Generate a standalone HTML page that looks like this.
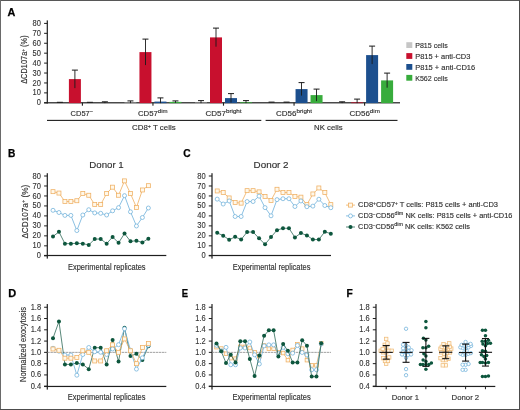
<!DOCTYPE html>
<html><head><meta charset="utf-8"><style>
html,body{margin:0;padding:0;background:#fff;}
body{width:520px;height:410px;overflow:hidden;}
svg{display:block;font-family:"Liberation Sans", sans-serif;will-change:transform;}
text{stroke:#333;stroke-width:0.14px;}
</style></head><body>
<svg width="520" height="410" viewBox="0 0 520 410">
<rect x="0" y="0" width="520" height="410" fill="#fff"/>
<text x="7.60" y="16.20" font-size="10.2" font-weight="bold" fill="#000" style="stroke:#000;stroke-width:0.25px" textLength="7.81" lengthAdjust="spacingAndGlyphs">A</text>
<rect x="44.10" y="102.30" width="3.20" height="1.0" fill="#1e1e1e"/>
<text x="40.9" y="105.35" font-size="8.8" text-anchor="end" fill="#333" style="stroke:#333;stroke-width:0.12px" textLength="4.18" lengthAdjust="spacingAndGlyphs">0</text>
<rect x="44.10" y="92.38" width="3.20" height="1.0" fill="#1e1e1e"/>
<text x="40.9" y="95.42" font-size="8.8" text-anchor="end" fill="#333" style="stroke:#333;stroke-width:0.12px" textLength="8.37" lengthAdjust="spacingAndGlyphs">10</text>
<rect x="44.10" y="82.45" width="3.20" height="1.0" fill="#1e1e1e"/>
<text x="40.9" y="85.50" font-size="8.8" text-anchor="end" fill="#333" style="stroke:#333;stroke-width:0.12px" textLength="8.37" lengthAdjust="spacingAndGlyphs">20</text>
<rect x="44.10" y="72.52" width="3.20" height="1.0" fill="#1e1e1e"/>
<text x="40.9" y="75.57" font-size="8.8" text-anchor="end" fill="#333" style="stroke:#333;stroke-width:0.12px" textLength="8.37" lengthAdjust="spacingAndGlyphs">30</text>
<rect x="44.10" y="62.60" width="3.20" height="1.0" fill="#1e1e1e"/>
<text x="40.9" y="65.65" font-size="8.8" text-anchor="end" fill="#333" style="stroke:#333;stroke-width:0.12px" textLength="8.37" lengthAdjust="spacingAndGlyphs">40</text>
<rect x="44.10" y="52.67" width="3.20" height="1.0" fill="#1e1e1e"/>
<text x="40.9" y="55.72" font-size="8.8" text-anchor="end" fill="#333" style="stroke:#333;stroke-width:0.12px" textLength="8.37" lengthAdjust="spacingAndGlyphs">50</text>
<rect x="44.10" y="42.75" width="3.20" height="1.0" fill="#1e1e1e"/>
<text x="40.9" y="45.80" font-size="8.8" text-anchor="end" fill="#333" style="stroke:#333;stroke-width:0.12px" textLength="8.37" lengthAdjust="spacingAndGlyphs">60</text>
<rect x="44.10" y="32.82" width="3.20" height="1.0" fill="#1e1e1e"/>
<text x="40.9" y="35.87" font-size="8.8" text-anchor="end" fill="#333" style="stroke:#333;stroke-width:0.12px" textLength="8.37" lengthAdjust="spacingAndGlyphs">70</text>
<rect x="44.10" y="22.90" width="3.20" height="1.0" fill="#1e1e1e"/>
<text x="40.9" y="25.95" font-size="8.8" text-anchor="end" fill="#333" style="stroke:#333;stroke-width:0.12px" textLength="8.37" lengthAdjust="spacingAndGlyphs">80</text>
<rect x="46.70" y="20.40" width="1.2" height="83.10" fill="#1e1e1e"/>
<rect x="44.10" y="102.20" width="355.90" height="1.2" fill="#1e1e1e"/>
<text transform="translate(27.4,59.6) rotate(-90)" font-size="8.8" text-anchor="middle" fill="#2e2e2e" textLength="48.5" lengthAdjust="spacingAndGlyphs">ΔCD107a<tspan dy="-2.8" font-size="5.4">+</tspan><tspan dy="2.8"> (%)</tspan></text>
<rect x="56.90" y="101.80" width="6.00" height="1.0" fill="#1a1a1a"/>
<rect x="68.90" y="79.10" width="12" height="24.00" fill="#c8102e"/>
<rect x="74.45" y="70.10" width="0.9" height="18.00" fill="#1a1a1a"/>
<rect x="71.90" y="69.60" width="6.00" height="1.0" fill="#1a1a1a"/>
<rect x="86.90" y="101.80" width="6.00" height="1.0" fill="#1a1a1a"/>
<rect x="104.45" y="101.80" width="0.9" height="1.30" fill="#1a1a1a"/>
<rect x="101.90" y="101.30" width="6.00" height="1.0" fill="#1a1a1a"/>
<rect x="81.85" y="102.60" width="1.1" height="3.10" fill="#1e1e1e"/>
<rect x="124.45" y="102.60" width="12" height="0.50" fill="#c6c6c6"/>
<rect x="130.00" y="100.90" width="0.9" height="2.20" fill="#1a1a1a"/>
<rect x="127.45" y="100.40" width="6.00" height="1.0" fill="#1a1a1a"/>
<rect x="139.45" y="52.10" width="12" height="51.00" fill="#c8102e"/>
<rect x="145.00" y="39.10" width="0.9" height="26.00" fill="#1a1a1a"/>
<rect x="142.45" y="38.60" width="6.00" height="1.0" fill="#1a1a1a"/>
<rect x="154.45" y="101.60" width="12" height="1.50" fill="#1c4f8e"/>
<rect x="160.00" y="97.90" width="0.9" height="5.20" fill="#1a1a1a"/>
<rect x="157.45" y="97.40" width="6.00" height="1.0" fill="#1a1a1a"/>
<rect x="169.45" y="101.90" width="12" height="1.20" fill="#38ac3c"/>
<rect x="175.00" y="100.90" width="0.9" height="2.00" fill="#1a1a1a"/>
<rect x="172.45" y="100.40" width="6.00" height="1.0" fill="#1a1a1a"/>
<rect x="152.40" y="102.60" width="1.1" height="3.10" fill="#1e1e1e"/>
<rect x="195.00" y="102.60" width="12" height="0.50" fill="#c6c6c6"/>
<rect x="200.55" y="100.60" width="0.9" height="2.50" fill="#1a1a1a"/>
<rect x="198.00" y="100.10" width="6.00" height="1.0" fill="#1a1a1a"/>
<rect x="210.00" y="37.40" width="12" height="65.70" fill="#c8102e"/>
<rect x="215.55" y="28.10" width="0.9" height="18.60" fill="#1a1a1a"/>
<rect x="213.00" y="27.60" width="6.00" height="1.0" fill="#1a1a1a"/>
<rect x="225.00" y="98.10" width="12" height="5.00" fill="#1c4f8e"/>
<rect x="230.55" y="93.60" width="0.9" height="9.00" fill="#1a1a1a"/>
<rect x="228.00" y="93.10" width="6.00" height="1.0" fill="#1a1a1a"/>
<rect x="240.00" y="102.30" width="12" height="0.80" fill="#38ac3c"/>
<rect x="245.55" y="100.60" width="0.9" height="2.50" fill="#1a1a1a"/>
<rect x="243.00" y="100.10" width="6.00" height="1.0" fill="#1a1a1a"/>
<rect x="222.95" y="102.60" width="1.1" height="3.10" fill="#1e1e1e"/>
<rect x="268.55" y="101.60" width="6.00" height="1.0" fill="#1a1a1a"/>
<rect x="283.55" y="101.60" width="6.00" height="1.0" fill="#1a1a1a"/>
<rect x="295.55" y="89.10" width="12" height="14.00" fill="#1c4f8e"/>
<rect x="301.10" y="82.60" width="0.9" height="13.00" fill="#1a1a1a"/>
<rect x="298.55" y="82.10" width="6.00" height="1.0" fill="#1a1a1a"/>
<rect x="310.55" y="95.10" width="12" height="8.00" fill="#38ac3c"/>
<rect x="316.10" y="89.10" width="0.9" height="12.00" fill="#1a1a1a"/>
<rect x="313.55" y="88.60" width="6.00" height="1.0" fill="#1a1a1a"/>
<rect x="293.50" y="102.60" width="1.1" height="3.10" fill="#1e1e1e"/>
<rect x="341.65" y="101.80" width="0.9" height="1.30" fill="#1a1a1a"/>
<rect x="339.10" y="101.30" width="6.00" height="1.0" fill="#1a1a1a"/>
<rect x="351.10" y="102.40" width="12" height="0.70" fill="#c8102e"/>
<rect x="356.65" y="99.10" width="0.9" height="4.00" fill="#1a1a1a"/>
<rect x="354.10" y="98.60" width="6.00" height="1.0" fill="#1a1a1a"/>
<rect x="366.10" y="55.10" width="12" height="48.00" fill="#1c4f8e"/>
<rect x="371.65" y="46.10" width="0.9" height="18.00" fill="#1a1a1a"/>
<rect x="369.10" y="45.60" width="6.00" height="1.0" fill="#1a1a1a"/>
<rect x="381.10" y="80.40" width="12" height="22.70" fill="#38ac3c"/>
<rect x="386.65" y="73.10" width="0.9" height="14.60" fill="#1a1a1a"/>
<rect x="384.10" y="72.60" width="6.00" height="1.0" fill="#1a1a1a"/>
<rect x="364.05" y="102.60" width="1.1" height="3.10" fill="#1e1e1e"/>
<text x="70.6" y="115.7" font-size="7.7" fill="#2e2e2e" textLength="22.60000000000001" lengthAdjust="spacingAndGlyphs">CD57<tspan dy="-2.7" font-size="6">−</tspan></text>
<text x="137.9" y="115.7" font-size="7.7" fill="#2e2e2e" textLength="29.69999999999999" lengthAdjust="spacingAndGlyphs">CD57<tspan dy="-2.7" font-size="6">dim</tspan></text>
<text x="205.5" y="115.7" font-size="7.7" fill="#2e2e2e" textLength="36.099999999999994" lengthAdjust="spacingAndGlyphs">CD57<tspan dy="-2.7" font-size="6">bright</tspan></text>
<text x="276.0" y="115.7" font-size="7.7" fill="#2e2e2e" textLength="36.10000000000002" lengthAdjust="spacingAndGlyphs">CD56<tspan dy="-2.7" font-size="6">bright</tspan></text>
<text x="349.5" y="115.7" font-size="7.7" fill="#2e2e2e" textLength="30.399999999999977" lengthAdjust="spacingAndGlyphs">CD56<tspan dy="-2.7" font-size="6">dim</tspan></text>
<rect x="47.00" y="119.85" width="214.30" height="1.1" fill="#1e1e1e"/>
<rect x="265.60" y="119.85" width="131.90" height="1.1" fill="#1e1e1e"/>
<text x="132" y="130.4" font-size="7.9" fill="#2e2e2e" textLength="43.6" lengthAdjust="spacingAndGlyphs">CD8<tspan dy="-2.8" font-size="5.4">+</tspan><tspan dy="2.8"> T cells</tspan></text>
<text x="314.0" y="130.4" font-size="7.9" text-anchor="start" font-weight="normal" fill="#2e2e2e" textLength="28.6" lengthAdjust="spacingAndGlyphs" >NK cells</text>
<rect x="406.3" y="42.20" width="6" height="5.8" fill="#c6c6c6"/>
<text x="415.2" y="47.85" font-size="7.7" text-anchor="start" font-weight="normal" fill="#2e2e2e" textLength="32.6" lengthAdjust="spacingAndGlyphs" >P815 cells</text>
<rect x="406.3" y="53.10" width="6" height="5.8" fill="#c8102e"/>
<text x="415.2" y="58.75" font-size="7.7" text-anchor="start" font-weight="normal" fill="#2e2e2e" textLength="55.2" lengthAdjust="spacingAndGlyphs" >P815 + anti-CD3</text>
<rect x="406.3" y="64.00" width="6" height="5.8" fill="#1c4f8e"/>
<text x="415.2" y="69.65" font-size="7.7" text-anchor="start" font-weight="normal" fill="#2e2e2e" textLength="60.0" lengthAdjust="spacingAndGlyphs" >P815 + anti-CD16</text>
<rect x="406.3" y="74.90" width="6" height="5.8" fill="#38ac3c"/>
<text x="415.2" y="80.55000000000001" font-size="7.7" text-anchor="start" font-weight="normal" fill="#2e2e2e" textLength="32.6" lengthAdjust="spacingAndGlyphs" >K562 cells</text>
<text x="8.10" y="157.10" font-size="10.2" font-weight="bold" fill="#000" style="stroke:#000;stroke-width:0.25px" textLength="7.36" lengthAdjust="spacingAndGlyphs">B</text>
<text x="106.5" y="168.0" font-size="9.2" text-anchor="middle" font-weight="normal" fill="#2e2e2e" textLength="34.4" lengthAdjust="spacingAndGlyphs" >Donor 1</text>
<rect x="44.10" y="255.30" width="3.20" height="1.0" fill="#1e1e1e"/>
<text x="40.9" y="258.35" font-size="8.8" text-anchor="end" fill="#333" style="stroke:#333;stroke-width:0.12px" textLength="4.18" lengthAdjust="spacingAndGlyphs">0</text>
<rect x="44.10" y="245.33" width="3.20" height="1.0" fill="#1e1e1e"/>
<text x="40.9" y="248.38" font-size="8.8" text-anchor="end" fill="#333" style="stroke:#333;stroke-width:0.12px" textLength="8.37" lengthAdjust="spacingAndGlyphs">10</text>
<rect x="44.10" y="235.35" width="3.20" height="1.0" fill="#1e1e1e"/>
<text x="40.9" y="238.40" font-size="8.8" text-anchor="end" fill="#333" style="stroke:#333;stroke-width:0.12px" textLength="8.37" lengthAdjust="spacingAndGlyphs">20</text>
<rect x="44.10" y="225.38" width="3.20" height="1.0" fill="#1e1e1e"/>
<text x="40.9" y="228.43" font-size="8.8" text-anchor="end" fill="#333" style="stroke:#333;stroke-width:0.12px" textLength="8.37" lengthAdjust="spacingAndGlyphs">30</text>
<rect x="44.10" y="215.40" width="3.20" height="1.0" fill="#1e1e1e"/>
<text x="40.9" y="218.45" font-size="8.8" text-anchor="end" fill="#333" style="stroke:#333;stroke-width:0.12px" textLength="8.37" lengthAdjust="spacingAndGlyphs">40</text>
<rect x="44.10" y="205.43" width="3.20" height="1.0" fill="#1e1e1e"/>
<text x="40.9" y="208.48" font-size="8.8" text-anchor="end" fill="#333" style="stroke:#333;stroke-width:0.12px" textLength="8.37" lengthAdjust="spacingAndGlyphs">50</text>
<rect x="44.10" y="195.45" width="3.20" height="1.0" fill="#1e1e1e"/>
<text x="40.9" y="198.50" font-size="8.8" text-anchor="end" fill="#333" style="stroke:#333;stroke-width:0.12px" textLength="8.37" lengthAdjust="spacingAndGlyphs">60</text>
<rect x="44.10" y="185.48" width="3.20" height="1.0" fill="#1e1e1e"/>
<text x="40.9" y="188.53" font-size="8.8" text-anchor="end" fill="#333" style="stroke:#333;stroke-width:0.12px" textLength="8.37" lengthAdjust="spacingAndGlyphs">70</text>
<rect x="44.10" y="175.50" width="3.20" height="1.0" fill="#1e1e1e"/>
<text x="40.9" y="178.55" font-size="8.8" text-anchor="end" fill="#333" style="stroke:#333;stroke-width:0.12px" textLength="8.37" lengthAdjust="spacingAndGlyphs">80</text>
<rect x="46.70" y="173.20" width="1.2" height="85.40" fill="#1e1e1e"/>
<rect x="44.10" y="254.90" width="122.20" height="1.2" fill="#1e1e1e"/>
<text transform="translate(27.9,211.7) rotate(-90)" font-size="8.4" text-anchor="middle" fill="#2e2e2e" textLength="53.8" lengthAdjust="spacingAndGlyphs">ΔCD107a<tspan dy="-3" font-size="5.8">+</tspan><tspan dy="3"> (%)</tspan></text>
<polyline points="53.00,236.45 58.96,231.86 64.92,243.63 70.88,243.63 76.84,243.23 82.80,243.63 88.76,244.93 94.72,239.04 100.68,239.04 106.64,243.63 112.60,236.95 118.56,242.83 124.52,233.56 130.48,241.34 136.44,240.74 142.40,242.43 148.36,238.64" fill="none" stroke="#2e6a58" stroke-width="0.8"/>
<circle cx="53.00" cy="236.45" r="2.0" fill="#0d563d"/>
<circle cx="58.96" cy="231.86" r="2.0" fill="#0d563d"/>
<circle cx="64.92" cy="243.63" r="2.0" fill="#0d563d"/>
<circle cx="70.88" cy="243.63" r="2.0" fill="#0d563d"/>
<circle cx="76.84" cy="243.23" r="2.0" fill="#0d563d"/>
<circle cx="82.80" cy="243.63" r="2.0" fill="#0d563d"/>
<circle cx="88.76" cy="244.93" r="2.0" fill="#0d563d"/>
<circle cx="94.72" cy="239.04" r="2.0" fill="#0d563d"/>
<circle cx="100.68" cy="239.04" r="2.0" fill="#0d563d"/>
<circle cx="106.64" cy="243.63" r="2.0" fill="#0d563d"/>
<circle cx="112.60" cy="236.95" r="2.0" fill="#0d563d"/>
<circle cx="118.56" cy="242.83" r="2.0" fill="#0d563d"/>
<circle cx="124.52" cy="233.56" r="2.0" fill="#0d563d"/>
<circle cx="130.48" cy="241.34" r="2.0" fill="#0d563d"/>
<circle cx="136.44" cy="240.74" r="2.0" fill="#0d563d"/>
<circle cx="142.40" cy="242.43" r="2.0" fill="#0d563d"/>
<circle cx="148.36" cy="238.64" r="2.0" fill="#0d563d"/>
<polyline points="53.00,191.66 58.96,193.06 64.92,201.54 70.88,201.54 76.84,200.74 82.80,193.56 88.76,195.25 94.72,204.53 100.68,204.53 106.64,193.56 112.60,187.17 118.56,195.25 124.52,180.89 130.48,193.56 136.44,207.42 142.40,189.97 148.36,185.68" fill="none" stroke="#efae60" stroke-width="0.8"/>
<rect x="51.00" y="189.66" width="4.0" height="4.0" fill="#fff8ea" stroke="#efae60" stroke-width="0.75"/>
<rect x="56.96" y="191.06" width="4.0" height="4.0" fill="#fff8ea" stroke="#efae60" stroke-width="0.75"/>
<rect x="62.92" y="199.54" width="4.0" height="4.0" fill="#fff8ea" stroke="#efae60" stroke-width="0.75"/>
<rect x="68.88" y="199.54" width="4.0" height="4.0" fill="#fff8ea" stroke="#efae60" stroke-width="0.75"/>
<rect x="74.84" y="198.74" width="4.0" height="4.0" fill="#fff8ea" stroke="#efae60" stroke-width="0.75"/>
<rect x="80.80" y="191.56" width="4.0" height="4.0" fill="#fff8ea" stroke="#efae60" stroke-width="0.75"/>
<rect x="86.76" y="193.25" width="4.0" height="4.0" fill="#fff8ea" stroke="#efae60" stroke-width="0.75"/>
<rect x="92.72" y="202.53" width="4.0" height="4.0" fill="#fff8ea" stroke="#efae60" stroke-width="0.75"/>
<rect x="98.68" y="202.53" width="4.0" height="4.0" fill="#fff8ea" stroke="#efae60" stroke-width="0.75"/>
<rect x="104.64" y="191.56" width="4.0" height="4.0" fill="#fff8ea" stroke="#efae60" stroke-width="0.75"/>
<rect x="110.60" y="185.17" width="4.0" height="4.0" fill="#fff8ea" stroke="#efae60" stroke-width="0.75"/>
<rect x="116.56" y="193.25" width="4.0" height="4.0" fill="#fff8ea" stroke="#efae60" stroke-width="0.75"/>
<rect x="122.52" y="178.89" width="4.0" height="4.0" fill="#fff8ea" stroke="#efae60" stroke-width="0.75"/>
<rect x="128.48" y="191.56" width="4.0" height="4.0" fill="#fff8ea" stroke="#efae60" stroke-width="0.75"/>
<rect x="134.44" y="205.42" width="4.0" height="4.0" fill="#fff8ea" stroke="#efae60" stroke-width="0.75"/>
<rect x="140.40" y="187.97" width="4.0" height="4.0" fill="#fff8ea" stroke="#efae60" stroke-width="0.75"/>
<rect x="146.36" y="183.68" width="4.0" height="4.0" fill="#fff8ea" stroke="#efae60" stroke-width="0.75"/>
<polyline points="53.00,210.31 58.96,212.51 64.92,215.40 70.88,215.40 76.84,230.56 82.80,215.00 88.76,209.72 94.72,212.91 100.68,213.31 106.64,215.00 112.60,210.81 118.56,207.62 124.52,195.65 130.48,211.81 136.44,225.97 142.40,217.50 148.36,208.02" fill="none" stroke="#6db0da" stroke-width="0.8"/>
<circle cx="53.00" cy="210.31" r="2.0" fill="#fff" stroke="#6db0da" stroke-width="0.75"/>
<circle cx="58.96" cy="212.51" r="2.0" fill="#fff" stroke="#6db0da" stroke-width="0.75"/>
<circle cx="64.92" cy="215.40" r="2.0" fill="#fff" stroke="#6db0da" stroke-width="0.75"/>
<circle cx="70.88" cy="215.40" r="2.0" fill="#fff" stroke="#6db0da" stroke-width="0.75"/>
<circle cx="76.84" cy="230.56" r="2.0" fill="#fff" stroke="#6db0da" stroke-width="0.75"/>
<circle cx="82.80" cy="215.00" r="2.0" fill="#fff" stroke="#6db0da" stroke-width="0.75"/>
<circle cx="88.76" cy="209.72" r="2.0" fill="#fff" stroke="#6db0da" stroke-width="0.75"/>
<circle cx="94.72" cy="212.91" r="2.0" fill="#fff" stroke="#6db0da" stroke-width="0.75"/>
<circle cx="100.68" cy="213.31" r="2.0" fill="#fff" stroke="#6db0da" stroke-width="0.75"/>
<circle cx="106.64" cy="215.00" r="2.0" fill="#fff" stroke="#6db0da" stroke-width="0.75"/>
<circle cx="112.60" cy="210.81" r="2.0" fill="#fff" stroke="#6db0da" stroke-width="0.75"/>
<circle cx="118.56" cy="207.62" r="2.0" fill="#fff" stroke="#6db0da" stroke-width="0.75"/>
<circle cx="124.52" cy="195.65" r="2.0" fill="#fff" stroke="#6db0da" stroke-width="0.75"/>
<circle cx="130.48" cy="211.81" r="2.0" fill="#fff" stroke="#6db0da" stroke-width="0.75"/>
<circle cx="136.44" cy="225.97" r="2.0" fill="#fff" stroke="#6db0da" stroke-width="0.75"/>
<circle cx="142.40" cy="217.50" r="2.0" fill="#fff" stroke="#6db0da" stroke-width="0.75"/>
<circle cx="148.36" cy="208.02" r="2.0" fill="#fff" stroke="#6db0da" stroke-width="0.75"/>
<text x="106.8" y="269.5" font-size="8.8" text-anchor="middle" font-weight="normal" fill="#2e2e2e" textLength="77.6" lengthAdjust="spacingAndGlyphs" >Experimental replicates</text>
<text x="183.20" y="157.10" font-size="10.2" font-weight="bold" fill="#000" style="stroke:#000;stroke-width:0.25px" textLength="7.36" lengthAdjust="spacingAndGlyphs">C</text>
<text x="271.1" y="168.0" font-size="9.2" text-anchor="middle" font-weight="normal" fill="#2e2e2e" textLength="35.0" lengthAdjust="spacingAndGlyphs" >Donor 2</text>
<rect x="208.80" y="255.30" width="3.20" height="1.0" fill="#1e1e1e"/>
<text x="205.6" y="258.35" font-size="8.8" text-anchor="end" fill="#333" style="stroke:#333;stroke-width:0.12px" textLength="4.18" lengthAdjust="spacingAndGlyphs">0</text>
<rect x="208.80" y="245.33" width="3.20" height="1.0" fill="#1e1e1e"/>
<text x="205.6" y="248.38" font-size="8.8" text-anchor="end" fill="#333" style="stroke:#333;stroke-width:0.12px" textLength="8.37" lengthAdjust="spacingAndGlyphs">10</text>
<rect x="208.80" y="235.35" width="3.20" height="1.0" fill="#1e1e1e"/>
<text x="205.6" y="238.40" font-size="8.8" text-anchor="end" fill="#333" style="stroke:#333;stroke-width:0.12px" textLength="8.37" lengthAdjust="spacingAndGlyphs">20</text>
<rect x="208.80" y="225.38" width="3.20" height="1.0" fill="#1e1e1e"/>
<text x="205.6" y="228.43" font-size="8.8" text-anchor="end" fill="#333" style="stroke:#333;stroke-width:0.12px" textLength="8.37" lengthAdjust="spacingAndGlyphs">30</text>
<rect x="208.80" y="215.40" width="3.20" height="1.0" fill="#1e1e1e"/>
<text x="205.6" y="218.45" font-size="8.8" text-anchor="end" fill="#333" style="stroke:#333;stroke-width:0.12px" textLength="8.37" lengthAdjust="spacingAndGlyphs">40</text>
<rect x="208.80" y="205.43" width="3.20" height="1.0" fill="#1e1e1e"/>
<text x="205.6" y="208.48" font-size="8.8" text-anchor="end" fill="#333" style="stroke:#333;stroke-width:0.12px" textLength="8.37" lengthAdjust="spacingAndGlyphs">50</text>
<rect x="208.80" y="195.45" width="3.20" height="1.0" fill="#1e1e1e"/>
<text x="205.6" y="198.50" font-size="8.8" text-anchor="end" fill="#333" style="stroke:#333;stroke-width:0.12px" textLength="8.37" lengthAdjust="spacingAndGlyphs">60</text>
<rect x="208.80" y="185.48" width="3.20" height="1.0" fill="#1e1e1e"/>
<text x="205.6" y="188.53" font-size="8.8" text-anchor="end" fill="#333" style="stroke:#333;stroke-width:0.12px" textLength="8.37" lengthAdjust="spacingAndGlyphs">70</text>
<rect x="208.80" y="175.50" width="3.20" height="1.0" fill="#1e1e1e"/>
<text x="205.6" y="178.55" font-size="8.8" text-anchor="end" fill="#333" style="stroke:#333;stroke-width:0.12px" textLength="8.37" lengthAdjust="spacingAndGlyphs">80</text>
<rect x="211.40" y="173.20" width="1.2" height="85.40" fill="#1e1e1e"/>
<rect x="208.80" y="254.90" width="122.20" height="1.2" fill="#1e1e1e"/>
<polyline points="217.20,232.86 223.18,235.65 229.16,239.74 235.14,236.85 241.12,239.54 247.10,232.06 253.08,232.06 259.06,238.34 265.04,244.33 271.02,237.10 277.00,230.16 282.98,228.27 288.96,228.27 294.94,237.45 300.92,233.06 306.90,235.45 312.88,239.54 318.86,239.54 324.84,231.76 330.82,233.66" fill="none" stroke="#2e6a58" stroke-width="0.8"/>
<circle cx="217.20" cy="232.86" r="2.0" fill="#0d563d"/>
<circle cx="223.18" cy="235.65" r="2.0" fill="#0d563d"/>
<circle cx="229.16" cy="239.74" r="2.0" fill="#0d563d"/>
<circle cx="235.14" cy="236.85" r="2.0" fill="#0d563d"/>
<circle cx="241.12" cy="239.54" r="2.0" fill="#0d563d"/>
<circle cx="247.10" cy="232.06" r="2.0" fill="#0d563d"/>
<circle cx="253.08" cy="232.06" r="2.0" fill="#0d563d"/>
<circle cx="259.06" cy="238.34" r="2.0" fill="#0d563d"/>
<circle cx="265.04" cy="244.33" r="2.0" fill="#0d563d"/>
<circle cx="271.02" cy="237.10" r="2.0" fill="#0d563d"/>
<circle cx="277.00" cy="230.16" r="2.0" fill="#0d563d"/>
<circle cx="282.98" cy="228.27" r="2.0" fill="#0d563d"/>
<circle cx="288.96" cy="228.27" r="2.0" fill="#0d563d"/>
<circle cx="294.94" cy="237.45" r="2.0" fill="#0d563d"/>
<circle cx="300.92" cy="233.06" r="2.0" fill="#0d563d"/>
<circle cx="306.90" cy="235.45" r="2.0" fill="#0d563d"/>
<circle cx="312.88" cy="239.54" r="2.0" fill="#0d563d"/>
<circle cx="318.86" cy="239.54" r="2.0" fill="#0d563d"/>
<circle cx="324.84" cy="231.76" r="2.0" fill="#0d563d"/>
<circle cx="330.82" cy="233.66" r="2.0" fill="#0d563d"/>
<polyline points="217.20,190.96 223.18,192.46 229.16,197.94 235.14,202.53 241.12,203.13 247.10,190.66 253.08,190.66 259.06,191.86 265.04,196.45 271.02,200.44 277.00,189.27 282.98,192.56 288.96,192.56 294.94,196.55 300.92,197.15 306.90,204.63 312.88,193.96 318.86,187.97 324.84,192.56 330.82,204.63" fill="none" stroke="#efae60" stroke-width="0.8"/>
<rect x="215.20" y="188.96" width="4.0" height="4.0" fill="#fff8ea" stroke="#efae60" stroke-width="0.75"/>
<rect x="221.18" y="190.46" width="4.0" height="4.0" fill="#fff8ea" stroke="#efae60" stroke-width="0.75"/>
<rect x="227.16" y="195.94" width="4.0" height="4.0" fill="#fff8ea" stroke="#efae60" stroke-width="0.75"/>
<rect x="233.14" y="200.53" width="4.0" height="4.0" fill="#fff8ea" stroke="#efae60" stroke-width="0.75"/>
<rect x="239.12" y="201.13" width="4.0" height="4.0" fill="#fff8ea" stroke="#efae60" stroke-width="0.75"/>
<rect x="245.10" y="188.66" width="4.0" height="4.0" fill="#fff8ea" stroke="#efae60" stroke-width="0.75"/>
<rect x="251.08" y="188.66" width="4.0" height="4.0" fill="#fff8ea" stroke="#efae60" stroke-width="0.75"/>
<rect x="257.06" y="189.86" width="4.0" height="4.0" fill="#fff8ea" stroke="#efae60" stroke-width="0.75"/>
<rect x="263.04" y="194.45" width="4.0" height="4.0" fill="#fff8ea" stroke="#efae60" stroke-width="0.75"/>
<rect x="269.02" y="198.44" width="4.0" height="4.0" fill="#fff8ea" stroke="#efae60" stroke-width="0.75"/>
<rect x="275.00" y="187.27" width="4.0" height="4.0" fill="#fff8ea" stroke="#efae60" stroke-width="0.75"/>
<rect x="280.98" y="190.56" width="4.0" height="4.0" fill="#fff8ea" stroke="#efae60" stroke-width="0.75"/>
<rect x="286.96" y="190.56" width="4.0" height="4.0" fill="#fff8ea" stroke="#efae60" stroke-width="0.75"/>
<rect x="292.94" y="194.55" width="4.0" height="4.0" fill="#fff8ea" stroke="#efae60" stroke-width="0.75"/>
<rect x="298.92" y="195.15" width="4.0" height="4.0" fill="#fff8ea" stroke="#efae60" stroke-width="0.75"/>
<rect x="304.90" y="202.63" width="4.0" height="4.0" fill="#fff8ea" stroke="#efae60" stroke-width="0.75"/>
<rect x="310.88" y="191.96" width="4.0" height="4.0" fill="#fff8ea" stroke="#efae60" stroke-width="0.75"/>
<rect x="316.86" y="185.97" width="4.0" height="4.0" fill="#fff8ea" stroke="#efae60" stroke-width="0.75"/>
<rect x="322.84" y="190.56" width="4.0" height="4.0" fill="#fff8ea" stroke="#efae60" stroke-width="0.75"/>
<rect x="328.82" y="202.63" width="4.0" height="4.0" fill="#fff8ea" stroke="#efae60" stroke-width="0.75"/>
<polyline points="217.20,199.14 223.18,204.03 229.16,200.94 235.14,216.50 241.12,216.50 247.10,201.54 253.08,201.54 259.06,196.15 265.04,207.62 271.02,215.80 277.00,199.64 282.98,198.74 288.96,198.74 294.94,206.52 300.92,200.94 306.90,206.72 312.88,206.12 318.86,199.24 324.84,205.53 330.82,207.72" fill="none" stroke="#6db0da" stroke-width="0.8"/>
<circle cx="217.20" cy="199.14" r="2.0" fill="#fff" stroke="#6db0da" stroke-width="0.75"/>
<circle cx="223.18" cy="204.03" r="2.0" fill="#fff" stroke="#6db0da" stroke-width="0.75"/>
<circle cx="229.16" cy="200.94" r="2.0" fill="#fff" stroke="#6db0da" stroke-width="0.75"/>
<circle cx="235.14" cy="216.50" r="2.0" fill="#fff" stroke="#6db0da" stroke-width="0.75"/>
<circle cx="241.12" cy="216.50" r="2.0" fill="#fff" stroke="#6db0da" stroke-width="0.75"/>
<circle cx="247.10" cy="201.54" r="2.0" fill="#fff" stroke="#6db0da" stroke-width="0.75"/>
<circle cx="253.08" cy="201.54" r="2.0" fill="#fff" stroke="#6db0da" stroke-width="0.75"/>
<circle cx="259.06" cy="196.15" r="2.0" fill="#fff" stroke="#6db0da" stroke-width="0.75"/>
<circle cx="265.04" cy="207.62" r="2.0" fill="#fff" stroke="#6db0da" stroke-width="0.75"/>
<circle cx="271.02" cy="215.80" r="2.0" fill="#fff" stroke="#6db0da" stroke-width="0.75"/>
<circle cx="277.00" cy="199.64" r="2.0" fill="#fff" stroke="#6db0da" stroke-width="0.75"/>
<circle cx="282.98" cy="198.74" r="2.0" fill="#fff" stroke="#6db0da" stroke-width="0.75"/>
<circle cx="288.96" cy="198.74" r="2.0" fill="#fff" stroke="#6db0da" stroke-width="0.75"/>
<circle cx="294.94" cy="206.52" r="2.0" fill="#fff" stroke="#6db0da" stroke-width="0.75"/>
<circle cx="300.92" cy="200.94" r="2.0" fill="#fff" stroke="#6db0da" stroke-width="0.75"/>
<circle cx="306.90" cy="206.72" r="2.0" fill="#fff" stroke="#6db0da" stroke-width="0.75"/>
<circle cx="312.88" cy="206.12" r="2.0" fill="#fff" stroke="#6db0da" stroke-width="0.75"/>
<circle cx="318.86" cy="199.24" r="2.0" fill="#fff" stroke="#6db0da" stroke-width="0.75"/>
<circle cx="324.84" cy="205.53" r="2.0" fill="#fff" stroke="#6db0da" stroke-width="0.75"/>
<circle cx="330.82" cy="207.72" r="2.0" fill="#fff" stroke="#6db0da" stroke-width="0.75"/>
<text x="271.6" y="269.5" font-size="8.8" text-anchor="middle" font-weight="normal" fill="#2e2e2e" textLength="77.6" lengthAdjust="spacingAndGlyphs" >Experimental replicates</text>
<line x1="346" y1="205.1" x2="355" y2="205.1" stroke="#efae60" stroke-width="0.8" />
<rect x="348.50" y="203.10" width="4.0" height="4.0" fill="#fff8ea" stroke="#efae60" stroke-width="0.75"/>
<line x1="346" y1="215.9" x2="355" y2="215.9" stroke="#6db0da" stroke-width="0.8" />
<circle cx="350.50" cy="215.90" r="2.0" fill="#fff" stroke="#6db0da" stroke-width="0.75"/>
<line x1="346" y1="227.0" x2="355" y2="227.0" stroke="#2e6a58" stroke-width="0.8" />
<circle cx="350.50" cy="227.00" r="2.0" fill="#0d563d"/>
<text x="358.1" y="207.2" font-size="7.3" fill="#2e2e2e" textLength="139.9" lengthAdjust="spacingAndGlyphs">CD8<tspan dy="-2.6" font-size="4.8">+</tspan><tspan dy="2.6">CD57</tspan><tspan dy="-2.6" font-size="4.8">+</tspan><tspan dy="2.6"> T cells: P815 cells + anti-CD3</tspan></text>
<text x="358.1" y="218.3" font-size="7.3" fill="#2e2e2e" textLength="154.3" lengthAdjust="spacingAndGlyphs">CD3<tspan dy="-2.6" font-size="4.8">−</tspan><tspan dy="2.6">CD56</tspan><tspan dy="-2.9" font-size="5.4">dim</tspan><tspan dy="2.9"> NK cells: P815 cells + anti-CD16</tspan></text>
<text x="358.1" y="229.3" font-size="7.3" fill="#2e2e2e" textLength="111.7" lengthAdjust="spacingAndGlyphs">CD3<tspan dy="-2.6" font-size="4.8">−</tspan><tspan dy="2.6">CD56</tspan><tspan dy="-2.9" font-size="5.4">dim</tspan><tspan dy="2.9"> NK cells: K562 cells</tspan></text>
<text x="8.20" y="297.10" font-size="10.2" font-weight="bold" fill="#000" style="stroke:#000;stroke-width:0.25px" textLength="7.95" lengthAdjust="spacingAndGlyphs">D</text>
<rect x="44.10" y="385.70" width="3.20" height="1.0" fill="#1e1e1e"/>
<text x="41.099999999999994" y="388.75" font-size="8.8" text-anchor="end" fill="#333" style="stroke:#333;stroke-width:0.12px" textLength="10.46" lengthAdjust="spacingAndGlyphs">0.4</text>
<rect x="44.10" y="374.42" width="3.20" height="1.0" fill="#1e1e1e"/>
<text x="41.099999999999994" y="377.47" font-size="8.8" text-anchor="end" fill="#333" style="stroke:#333;stroke-width:0.12px" textLength="10.46" lengthAdjust="spacingAndGlyphs">0.6</text>
<rect x="44.10" y="363.14" width="3.20" height="1.0" fill="#1e1e1e"/>
<text x="41.099999999999994" y="366.19" font-size="8.8" text-anchor="end" fill="#333" style="stroke:#333;stroke-width:0.12px" textLength="10.46" lengthAdjust="spacingAndGlyphs">0.8</text>
<rect x="44.10" y="351.86" width="3.20" height="1.0" fill="#1e1e1e"/>
<text x="41.099999999999994" y="354.91" font-size="8.8" text-anchor="end" fill="#333" style="stroke:#333;stroke-width:0.12px" textLength="10.46" lengthAdjust="spacingAndGlyphs">1.0</text>
<rect x="44.10" y="340.58" width="3.20" height="1.0" fill="#1e1e1e"/>
<text x="41.099999999999994" y="343.63" font-size="8.8" text-anchor="end" fill="#333" style="stroke:#333;stroke-width:0.12px" textLength="10.46" lengthAdjust="spacingAndGlyphs">1.2</text>
<rect x="44.10" y="329.30" width="3.20" height="1.0" fill="#1e1e1e"/>
<text x="41.099999999999994" y="332.35" font-size="8.8" text-anchor="end" fill="#333" style="stroke:#333;stroke-width:0.12px" textLength="10.46" lengthAdjust="spacingAndGlyphs">1.4</text>
<rect x="44.10" y="318.02" width="3.20" height="1.0" fill="#1e1e1e"/>
<text x="41.099999999999994" y="321.07" font-size="8.8" text-anchor="end" fill="#333" style="stroke:#333;stroke-width:0.12px" textLength="10.46" lengthAdjust="spacingAndGlyphs">1.6</text>
<rect x="44.10" y="306.74" width="3.20" height="1.0" fill="#1e1e1e"/>
<text x="41.099999999999994" y="309.79" font-size="8.8" text-anchor="end" fill="#333" style="stroke:#333;stroke-width:0.12px" textLength="10.46" lengthAdjust="spacingAndGlyphs">1.8</text>
<rect x="46.70" y="304.04" width="1.2" height="85.56" fill="#1e1e1e"/>
<rect x="44.10" y="385.85" width="122.20" height="1.2" fill="#1e1e1e"/>
<line x1="47.3" y1="352.36" x2="166.3" y2="352.36" stroke="#8a8a8a" stroke-width="0.8" stroke-dasharray="2.5,0.6"/>
<polyline points="53.00,338.22 58.96,321.50 64.92,364.40 70.88,364.40 76.84,362.95 82.80,364.40 88.76,369.13 94.72,347.68 100.68,347.68 106.64,364.40 112.60,340.04 118.56,361.49 124.52,327.68 130.48,356.04 136.44,353.86 142.40,360.04 148.36,346.22" fill="none" stroke="#2e6a58" stroke-width="0.8"/>
<circle cx="53.00" cy="338.22" r="2.0" fill="#0d563d"/>
<circle cx="58.96" cy="321.50" r="2.0" fill="#0d563d"/>
<circle cx="64.92" cy="364.40" r="2.0" fill="#0d563d"/>
<circle cx="70.88" cy="364.40" r="2.0" fill="#0d563d"/>
<circle cx="76.84" cy="362.95" r="2.0" fill="#0d563d"/>
<circle cx="82.80" cy="364.40" r="2.0" fill="#0d563d"/>
<circle cx="88.76" cy="369.13" r="2.0" fill="#0d563d"/>
<circle cx="94.72" cy="347.68" r="2.0" fill="#0d563d"/>
<circle cx="100.68" cy="347.68" r="2.0" fill="#0d563d"/>
<circle cx="106.64" cy="364.40" r="2.0" fill="#0d563d"/>
<circle cx="112.60" cy="340.04" r="2.0" fill="#0d563d"/>
<circle cx="118.56" cy="361.49" r="2.0" fill="#0d563d"/>
<circle cx="124.52" cy="327.68" r="2.0" fill="#0d563d"/>
<circle cx="130.48" cy="356.04" r="2.0" fill="#0d563d"/>
<circle cx="136.44" cy="353.86" r="2.0" fill="#0d563d"/>
<circle cx="142.40" cy="360.04" r="2.0" fill="#0d563d"/>
<circle cx="148.36" cy="346.22" r="2.0" fill="#0d563d"/>
<polyline points="53.00,348.28 58.96,351.20 64.92,355.04 70.88,355.04 76.84,375.20 82.80,354.51 88.76,347.48 94.72,351.73 100.68,352.26 106.64,354.51 112.60,348.94 118.56,344.70 124.52,328.78 130.48,350.27 136.44,369.10 142.40,357.83 148.36,345.23" fill="none" stroke="#6db0da" stroke-width="0.8"/>
<circle cx="53.00" cy="348.28" r="2.0" fill="#fff" stroke="#6db0da" stroke-width="0.75"/>
<circle cx="58.96" cy="351.20" r="2.0" fill="#fff" stroke="#6db0da" stroke-width="0.75"/>
<circle cx="64.92" cy="355.04" r="2.0" fill="#fff" stroke="#6db0da" stroke-width="0.75"/>
<circle cx="70.88" cy="355.04" r="2.0" fill="#fff" stroke="#6db0da" stroke-width="0.75"/>
<circle cx="76.84" cy="375.20" r="2.0" fill="#fff" stroke="#6db0da" stroke-width="0.75"/>
<circle cx="82.80" cy="354.51" r="2.0" fill="#fff" stroke="#6db0da" stroke-width="0.75"/>
<circle cx="88.76" cy="347.48" r="2.0" fill="#fff" stroke="#6db0da" stroke-width="0.75"/>
<circle cx="94.72" cy="351.73" r="2.0" fill="#fff" stroke="#6db0da" stroke-width="0.75"/>
<circle cx="100.68" cy="352.26" r="2.0" fill="#fff" stroke="#6db0da" stroke-width="0.75"/>
<circle cx="106.64" cy="354.51" r="2.0" fill="#fff" stroke="#6db0da" stroke-width="0.75"/>
<circle cx="112.60" cy="348.94" r="2.0" fill="#fff" stroke="#6db0da" stroke-width="0.75"/>
<circle cx="118.56" cy="344.70" r="2.0" fill="#fff" stroke="#6db0da" stroke-width="0.75"/>
<circle cx="124.52" cy="328.78" r="2.0" fill="#fff" stroke="#6db0da" stroke-width="0.75"/>
<circle cx="130.48" cy="350.27" r="2.0" fill="#fff" stroke="#6db0da" stroke-width="0.75"/>
<circle cx="136.44" cy="369.10" r="2.0" fill="#fff" stroke="#6db0da" stroke-width="0.75"/>
<circle cx="142.40" cy="357.83" r="2.0" fill="#fff" stroke="#6db0da" stroke-width="0.75"/>
<circle cx="148.36" cy="345.23" r="2.0" fill="#fff" stroke="#6db0da" stroke-width="0.75"/>
<polyline points="53.00,348.98 58.96,350.28 64.92,358.18 70.88,358.18 76.84,357.44 82.80,350.75 88.76,352.33 94.72,360.97 100.68,360.97 106.64,350.75 112.60,344.80 118.56,352.33 124.52,338.94 130.48,350.75 136.44,363.67 142.40,347.40 148.36,343.40" fill="none" stroke="#efae60" stroke-width="0.8"/>
<rect x="51.00" y="346.98" width="4.0" height="4.0" fill="#fff8ea" stroke="#efae60" stroke-width="0.75"/>
<rect x="56.96" y="348.28" width="4.0" height="4.0" fill="#fff8ea" stroke="#efae60" stroke-width="0.75"/>
<rect x="62.92" y="356.18" width="4.0" height="4.0" fill="#fff8ea" stroke="#efae60" stroke-width="0.75"/>
<rect x="68.88" y="356.18" width="4.0" height="4.0" fill="#fff8ea" stroke="#efae60" stroke-width="0.75"/>
<rect x="74.84" y="355.44" width="4.0" height="4.0" fill="#fff8ea" stroke="#efae60" stroke-width="0.75"/>
<rect x="80.80" y="348.75" width="4.0" height="4.0" fill="#fff8ea" stroke="#efae60" stroke-width="0.75"/>
<rect x="86.76" y="350.33" width="4.0" height="4.0" fill="#fff8ea" stroke="#efae60" stroke-width="0.75"/>
<rect x="92.72" y="358.97" width="4.0" height="4.0" fill="#fff8ea" stroke="#efae60" stroke-width="0.75"/>
<rect x="98.68" y="358.97" width="4.0" height="4.0" fill="#fff8ea" stroke="#efae60" stroke-width="0.75"/>
<rect x="104.64" y="348.75" width="4.0" height="4.0" fill="#fff8ea" stroke="#efae60" stroke-width="0.75"/>
<rect x="110.60" y="342.80" width="4.0" height="4.0" fill="#fff8ea" stroke="#efae60" stroke-width="0.75"/>
<rect x="116.56" y="350.33" width="4.0" height="4.0" fill="#fff8ea" stroke="#efae60" stroke-width="0.75"/>
<rect x="122.52" y="336.94" width="4.0" height="4.0" fill="#fff8ea" stroke="#efae60" stroke-width="0.75"/>
<rect x="128.48" y="348.75" width="4.0" height="4.0" fill="#fff8ea" stroke="#efae60" stroke-width="0.75"/>
<rect x="134.44" y="361.67" width="4.0" height="4.0" fill="#fff8ea" stroke="#efae60" stroke-width="0.75"/>
<rect x="140.40" y="345.40" width="4.0" height="4.0" fill="#fff8ea" stroke="#efae60" stroke-width="0.75"/>
<rect x="146.36" y="341.40" width="4.0" height="4.0" fill="#fff8ea" stroke="#efae60" stroke-width="0.75"/>
<text transform="translate(25.7,344.5) rotate(-90)" font-size="9.2" text-anchor="middle" fill="#2e2e2e" textLength="75" lengthAdjust="spacingAndGlyphs">Normalized exocytosis</text>
<text x="106.6" y="400.4" font-size="8.8" text-anchor="middle" font-weight="normal" fill="#2e2e2e" textLength="77.6" lengthAdjust="spacingAndGlyphs" >Experimental replicates</text>
<text x="181.70" y="297.10" font-size="10.2" font-weight="bold" fill="#000" style="stroke:#000;stroke-width:0.25px" textLength="6.33" lengthAdjust="spacingAndGlyphs">E</text>
<rect x="208.80" y="385.70" width="3.20" height="1.0" fill="#1e1e1e"/>
<text x="205.8" y="388.75" font-size="8.8" text-anchor="end" fill="#333" style="stroke:#333;stroke-width:0.12px" textLength="10.46" lengthAdjust="spacingAndGlyphs">0.4</text>
<rect x="208.80" y="374.42" width="3.20" height="1.0" fill="#1e1e1e"/>
<text x="205.8" y="377.47" font-size="8.8" text-anchor="end" fill="#333" style="stroke:#333;stroke-width:0.12px" textLength="10.46" lengthAdjust="spacingAndGlyphs">0.6</text>
<rect x="208.80" y="363.14" width="3.20" height="1.0" fill="#1e1e1e"/>
<text x="205.8" y="366.19" font-size="8.8" text-anchor="end" fill="#333" style="stroke:#333;stroke-width:0.12px" textLength="10.46" lengthAdjust="spacingAndGlyphs">0.8</text>
<rect x="208.80" y="351.86" width="3.20" height="1.0" fill="#1e1e1e"/>
<text x="205.8" y="354.91" font-size="8.8" text-anchor="end" fill="#333" style="stroke:#333;stroke-width:0.12px" textLength="10.46" lengthAdjust="spacingAndGlyphs">1.0</text>
<rect x="208.80" y="340.58" width="3.20" height="1.0" fill="#1e1e1e"/>
<text x="205.8" y="343.63" font-size="8.8" text-anchor="end" fill="#333" style="stroke:#333;stroke-width:0.12px" textLength="10.46" lengthAdjust="spacingAndGlyphs">1.2</text>
<rect x="208.80" y="329.30" width="3.20" height="1.0" fill="#1e1e1e"/>
<text x="205.8" y="332.35" font-size="8.8" text-anchor="end" fill="#333" style="stroke:#333;stroke-width:0.12px" textLength="10.46" lengthAdjust="spacingAndGlyphs">1.4</text>
<rect x="208.80" y="318.02" width="3.20" height="1.0" fill="#1e1e1e"/>
<text x="205.8" y="321.07" font-size="8.8" text-anchor="end" fill="#333" style="stroke:#333;stroke-width:0.12px" textLength="10.46" lengthAdjust="spacingAndGlyphs">1.6</text>
<rect x="208.80" y="306.74" width="3.20" height="1.0" fill="#1e1e1e"/>
<text x="205.8" y="309.79" font-size="8.8" text-anchor="end" fill="#333" style="stroke:#333;stroke-width:0.12px" textLength="10.46" lengthAdjust="spacingAndGlyphs">1.8</text>
<rect x="211.40" y="304.04" width="1.2" height="85.56" fill="#1e1e1e"/>
<rect x="208.80" y="385.85" width="122.20" height="1.2" fill="#1e1e1e"/>
<line x1="212.0" y1="352.36" x2="331" y2="352.36" stroke="#8a8a8a" stroke-width="0.8" stroke-dasharray="2.5,0.6"/>
<polyline points="216.50,347.15 221.26,348.57 226.02,353.78 230.78,358.14 235.54,358.71 240.30,346.86 245.06,346.86 249.82,348.00 254.58,352.36 259.34,356.15 264.10,345.54 268.86,348.66 273.62,348.66 278.38,352.45 283.14,353.02 287.90,360.13 292.66,349.99 297.42,344.30 302.18,348.66 306.94,360.13 311.70,365.33 316.46,365.33 321.22,343.34" fill="none" stroke="#efae60" stroke-width="0.8"/>
<rect x="214.70" y="345.35" width="3.6" height="3.6" fill="#fff8ea" stroke="#efae60" stroke-width="0.75"/>
<rect x="219.46" y="346.77" width="3.6" height="3.6" fill="#fff8ea" stroke="#efae60" stroke-width="0.75"/>
<rect x="224.22" y="351.98" width="3.6" height="3.6" fill="#fff8ea" stroke="#efae60" stroke-width="0.75"/>
<rect x="228.98" y="356.34" width="3.6" height="3.6" fill="#fff8ea" stroke="#efae60" stroke-width="0.75"/>
<rect x="233.74" y="356.91" width="3.6" height="3.6" fill="#fff8ea" stroke="#efae60" stroke-width="0.75"/>
<rect x="238.50" y="345.06" width="3.6" height="3.6" fill="#fff8ea" stroke="#efae60" stroke-width="0.75"/>
<rect x="243.26" y="345.06" width="3.6" height="3.6" fill="#fff8ea" stroke="#efae60" stroke-width="0.75"/>
<rect x="248.02" y="346.20" width="3.6" height="3.6" fill="#fff8ea" stroke="#efae60" stroke-width="0.75"/>
<rect x="252.78" y="350.56" width="3.6" height="3.6" fill="#fff8ea" stroke="#efae60" stroke-width="0.75"/>
<rect x="257.54" y="354.35" width="3.6" height="3.6" fill="#fff8ea" stroke="#efae60" stroke-width="0.75"/>
<rect x="262.30" y="343.74" width="3.6" height="3.6" fill="#fff8ea" stroke="#efae60" stroke-width="0.75"/>
<rect x="267.06" y="346.86" width="3.6" height="3.6" fill="#fff8ea" stroke="#efae60" stroke-width="0.75"/>
<rect x="271.82" y="346.86" width="3.6" height="3.6" fill="#fff8ea" stroke="#efae60" stroke-width="0.75"/>
<rect x="276.58" y="350.65" width="3.6" height="3.6" fill="#fff8ea" stroke="#efae60" stroke-width="0.75"/>
<rect x="281.34" y="351.22" width="3.6" height="3.6" fill="#fff8ea" stroke="#efae60" stroke-width="0.75"/>
<rect x="286.10" y="358.33" width="3.6" height="3.6" fill="#fff8ea" stroke="#efae60" stroke-width="0.75"/>
<rect x="290.86" y="348.19" width="3.6" height="3.6" fill="#fff8ea" stroke="#efae60" stroke-width="0.75"/>
<rect x="295.62" y="342.50" width="3.6" height="3.6" fill="#fff8ea" stroke="#efae60" stroke-width="0.75"/>
<rect x="300.38" y="346.86" width="3.6" height="3.6" fill="#fff8ea" stroke="#efae60" stroke-width="0.75"/>
<rect x="305.14" y="358.33" width="3.6" height="3.6" fill="#fff8ea" stroke="#efae60" stroke-width="0.75"/>
<rect x="309.90" y="363.53" width="3.6" height="3.6" fill="#fff8ea" stroke="#efae60" stroke-width="0.75"/>
<rect x="314.66" y="363.53" width="3.6" height="3.6" fill="#fff8ea" stroke="#efae60" stroke-width="0.75"/>
<rect x="319.42" y="341.54" width="3.6" height="3.6" fill="#fff8ea" stroke="#efae60" stroke-width="0.75"/>
<polyline points="216.50,345.32 221.26,350.80 226.02,347.33 230.78,364.76 235.54,364.76 240.30,348.00 245.06,348.00 249.82,341.97 254.58,354.82 259.34,363.98 264.10,345.88 268.86,344.88 273.62,344.88 278.38,353.59 283.14,347.33 287.90,353.81 292.66,353.14 297.42,345.44 302.18,352.47 306.94,354.93 311.70,369.84 316.46,369.84 321.22,343.90" fill="none" stroke="#6db0da" stroke-width="0.8"/>
<circle cx="216.50" cy="345.32" r="2.0" fill="#fff" stroke="#6db0da" stroke-width="0.75"/>
<circle cx="221.26" cy="350.80" r="2.0" fill="#fff" stroke="#6db0da" stroke-width="0.75"/>
<circle cx="226.02" cy="347.33" r="2.0" fill="#fff" stroke="#6db0da" stroke-width="0.75"/>
<circle cx="230.78" cy="364.76" r="2.0" fill="#fff" stroke="#6db0da" stroke-width="0.75"/>
<circle cx="235.54" cy="364.76" r="2.0" fill="#fff" stroke="#6db0da" stroke-width="0.75"/>
<circle cx="240.30" cy="348.00" r="2.0" fill="#fff" stroke="#6db0da" stroke-width="0.75"/>
<circle cx="245.06" cy="348.00" r="2.0" fill="#fff" stroke="#6db0da" stroke-width="0.75"/>
<circle cx="249.82" cy="341.97" r="2.0" fill="#fff" stroke="#6db0da" stroke-width="0.75"/>
<circle cx="254.58" cy="354.82" r="2.0" fill="#fff" stroke="#6db0da" stroke-width="0.75"/>
<circle cx="259.34" cy="363.98" r="2.0" fill="#fff" stroke="#6db0da" stroke-width="0.75"/>
<circle cx="264.10" cy="345.88" r="2.0" fill="#fff" stroke="#6db0da" stroke-width="0.75"/>
<circle cx="268.86" cy="344.88" r="2.0" fill="#fff" stroke="#6db0da" stroke-width="0.75"/>
<circle cx="273.62" cy="344.88" r="2.0" fill="#fff" stroke="#6db0da" stroke-width="0.75"/>
<circle cx="278.38" cy="353.59" r="2.0" fill="#fff" stroke="#6db0da" stroke-width="0.75"/>
<circle cx="283.14" cy="347.33" r="2.0" fill="#fff" stroke="#6db0da" stroke-width="0.75"/>
<circle cx="287.90" cy="353.81" r="2.0" fill="#fff" stroke="#6db0da" stroke-width="0.75"/>
<circle cx="292.66" cy="353.14" r="2.0" fill="#fff" stroke="#6db0da" stroke-width="0.75"/>
<circle cx="297.42" cy="345.44" r="2.0" fill="#fff" stroke="#6db0da" stroke-width="0.75"/>
<circle cx="302.18" cy="352.47" r="2.0" fill="#fff" stroke="#6db0da" stroke-width="0.75"/>
<circle cx="306.94" cy="354.93" r="2.0" fill="#fff" stroke="#6db0da" stroke-width="0.75"/>
<circle cx="311.70" cy="369.84" r="2.0" fill="#fff" stroke="#6db0da" stroke-width="0.75"/>
<circle cx="316.46" cy="369.84" r="2.0" fill="#fff" stroke="#6db0da" stroke-width="0.75"/>
<circle cx="321.22" cy="343.90" r="2.0" fill="#fff" stroke="#6db0da" stroke-width="0.75"/>
<polyline points="216.50,343.41 221.26,351.37 226.02,363.01 230.78,354.78 235.54,362.45 240.30,341.14 245.06,341.14 249.82,359.04 254.58,376.08 259.34,355.49 264.10,335.74 268.86,330.34 273.62,330.34 278.38,356.48 283.14,343.98 287.90,350.80 292.66,362.45 297.42,362.45 302.18,340.28 306.94,345.68 311.70,376.61 316.46,376.61 321.22,343.34" fill="none" stroke="#2e6a58" stroke-width="0.8"/>
<circle cx="216.50" cy="343.41" r="2.0" fill="#0d563d"/>
<circle cx="221.26" cy="351.37" r="2.0" fill="#0d563d"/>
<circle cx="226.02" cy="363.01" r="2.0" fill="#0d563d"/>
<circle cx="230.78" cy="354.78" r="2.0" fill="#0d563d"/>
<circle cx="235.54" cy="362.45" r="2.0" fill="#0d563d"/>
<circle cx="240.30" cy="341.14" r="2.0" fill="#0d563d"/>
<circle cx="245.06" cy="341.14" r="2.0" fill="#0d563d"/>
<circle cx="249.82" cy="359.04" r="2.0" fill="#0d563d"/>
<circle cx="254.58" cy="376.08" r="2.0" fill="#0d563d"/>
<circle cx="259.34" cy="355.49" r="2.0" fill="#0d563d"/>
<circle cx="264.10" cy="335.74" r="2.0" fill="#0d563d"/>
<circle cx="268.86" cy="330.34" r="2.0" fill="#0d563d"/>
<circle cx="273.62" cy="330.34" r="2.0" fill="#0d563d"/>
<circle cx="278.38" cy="356.48" r="2.0" fill="#0d563d"/>
<circle cx="283.14" cy="343.98" r="2.0" fill="#0d563d"/>
<circle cx="287.90" cy="350.80" r="2.0" fill="#0d563d"/>
<circle cx="292.66" cy="362.45" r="2.0" fill="#0d563d"/>
<circle cx="297.42" cy="362.45" r="2.0" fill="#0d563d"/>
<circle cx="302.18" cy="340.28" r="2.0" fill="#0d563d"/>
<circle cx="306.94" cy="345.68" r="2.0" fill="#0d563d"/>
<circle cx="311.70" cy="376.61" r="2.0" fill="#0d563d"/>
<circle cx="316.46" cy="376.61" r="2.0" fill="#0d563d"/>
<circle cx="321.22" cy="343.34" r="2.0" fill="#0d563d"/>
<text x="271.6" y="400.4" font-size="8.8" text-anchor="middle" font-weight="normal" fill="#2e2e2e" textLength="78.2" lengthAdjust="spacingAndGlyphs" >Experimental replicates</text>
<text x="346.50" y="297.10" font-size="10.2" font-weight="bold" fill="#000" style="stroke:#000;stroke-width:0.25px" textLength="6.23" lengthAdjust="spacingAndGlyphs">F</text>
<rect x="372.80" y="385.70" width="3.20" height="1.0" fill="#1e1e1e"/>
<text x="369.8" y="388.75" font-size="8.8" text-anchor="end" fill="#333" style="stroke:#333;stroke-width:0.12px" textLength="10.46" lengthAdjust="spacingAndGlyphs">0.4</text>
<rect x="372.80" y="374.42" width="3.20" height="1.0" fill="#1e1e1e"/>
<text x="369.8" y="377.47" font-size="8.8" text-anchor="end" fill="#333" style="stroke:#333;stroke-width:0.12px" textLength="10.46" lengthAdjust="spacingAndGlyphs">0.6</text>
<rect x="372.80" y="363.14" width="3.20" height="1.0" fill="#1e1e1e"/>
<text x="369.8" y="366.19" font-size="8.8" text-anchor="end" fill="#333" style="stroke:#333;stroke-width:0.12px" textLength="10.46" lengthAdjust="spacingAndGlyphs">0.8</text>
<rect x="372.80" y="351.86" width="3.20" height="1.0" fill="#1e1e1e"/>
<text x="369.8" y="354.91" font-size="8.8" text-anchor="end" fill="#333" style="stroke:#333;stroke-width:0.12px" textLength="10.46" lengthAdjust="spacingAndGlyphs">1.0</text>
<rect x="372.80" y="340.58" width="3.20" height="1.0" fill="#1e1e1e"/>
<text x="369.8" y="343.63" font-size="8.8" text-anchor="end" fill="#333" style="stroke:#333;stroke-width:0.12px" textLength="10.46" lengthAdjust="spacingAndGlyphs">1.2</text>
<rect x="372.80" y="329.30" width="3.20" height="1.0" fill="#1e1e1e"/>
<text x="369.8" y="332.35" font-size="8.8" text-anchor="end" fill="#333" style="stroke:#333;stroke-width:0.12px" textLength="10.46" lengthAdjust="spacingAndGlyphs">1.4</text>
<rect x="372.80" y="318.02" width="3.20" height="1.0" fill="#1e1e1e"/>
<text x="369.8" y="321.07" font-size="8.8" text-anchor="end" fill="#333" style="stroke:#333;stroke-width:0.12px" textLength="10.46" lengthAdjust="spacingAndGlyphs">1.6</text>
<rect x="372.80" y="306.74" width="3.20" height="1.0" fill="#1e1e1e"/>
<text x="369.8" y="309.79" font-size="8.8" text-anchor="end" fill="#333" style="stroke:#333;stroke-width:0.12px" textLength="10.46" lengthAdjust="spacingAndGlyphs">1.8</text>
<rect x="375.40" y="304.04" width="1.2" height="82.96" fill="#1e1e1e"/>
<rect x="372.80" y="385.85" width="122.50" height="1.2" fill="#1e1e1e"/>
<rect x="385.70" y="386.40" width="1.0" height="2.80" fill="#1e1e1e"/>
<rect x="384.50" y="361.97" width="3.4" height="3.4" fill="#fff8ea" stroke="#f0bb78" stroke-width="0.75"/>
<rect x="383.25" y="359.27" width="3.4" height="3.4" fill="#fff8ea" stroke="#f0bb78" stroke-width="0.75"/>
<rect x="386.25" y="359.27" width="3.4" height="3.4" fill="#fff8ea" stroke="#f0bb78" stroke-width="0.75"/>
<rect x="384.50" y="356.48" width="3.4" height="3.4" fill="#fff8ea" stroke="#f0bb78" stroke-width="0.75"/>
<rect x="381.50" y="356.48" width="3.4" height="3.4" fill="#fff8ea" stroke="#f0bb78" stroke-width="0.75"/>
<rect x="387.50" y="355.74" width="3.4" height="3.4" fill="#fff8ea" stroke="#f0bb78" stroke-width="0.75"/>
<rect x="384.50" y="350.63" width="3.4" height="3.4" fill="#fff8ea" stroke="#f0bb78" stroke-width="0.75"/>
<rect x="381.50" y="350.63" width="3.4" height="3.4" fill="#fff8ea" stroke="#f0bb78" stroke-width="0.75"/>
<rect x="387.00" y="349.05" width="3.4" height="3.4" fill="#fff8ea" stroke="#f0bb78" stroke-width="0.75"/>
<rect x="379.00" y="349.05" width="3.4" height="3.4" fill="#fff8ea" stroke="#f0bb78" stroke-width="0.75"/>
<rect x="390.00" y="349.05" width="3.4" height="3.4" fill="#fff8ea" stroke="#f0bb78" stroke-width="0.75"/>
<rect x="383.25" y="348.58" width="3.4" height="3.4" fill="#fff8ea" stroke="#f0bb78" stroke-width="0.75"/>
<rect x="381.00" y="347.28" width="3.4" height="3.4" fill="#fff8ea" stroke="#f0bb78" stroke-width="0.75"/>
<rect x="384.50" y="345.70" width="3.4" height="3.4" fill="#fff8ea" stroke="#f0bb78" stroke-width="0.75"/>
<rect x="383.00" y="343.10" width="3.4" height="3.4" fill="#fff8ea" stroke="#f0bb78" stroke-width="0.75"/>
<rect x="385.75" y="341.70" width="3.4" height="3.4" fill="#fff8ea" stroke="#f0bb78" stroke-width="0.75"/>
<rect x="384.50" y="337.24" width="3.4" height="3.4" fill="#fff8ea" stroke="#f0bb78" stroke-width="0.75"/>
<rect x="379.60" y="351.81" width="13.20" height="1.1" fill="#111"/>
<rect x="385.65" y="345.58" width="1.1" height="13.56" fill="#111"/>
<rect x="382.70" y="345.03" width="7.00" height="1.1" fill="#111"/>
<rect x="382.70" y="358.59" width="7.00" height="1.1" fill="#111"/>
<rect x="405.55" y="386.40" width="1.0" height="2.80" fill="#1e1e1e"/>
<circle cx="406.05" cy="375.20" r="1.7" fill="#fff" stroke="#6db0da" stroke-width="0.75"/>
<circle cx="406.05" cy="369.10" r="1.7" fill="#fff" stroke="#6db0da" stroke-width="0.75"/>
<circle cx="406.05" cy="357.83" r="1.7" fill="#fff" stroke="#6db0da" stroke-width="0.75"/>
<circle cx="405.05" cy="355.04" r="1.7" fill="#fff" stroke="#6db0da" stroke-width="0.75"/>
<circle cx="408.05" cy="355.04" r="1.7" fill="#fff" stroke="#6db0da" stroke-width="0.75"/>
<circle cx="402.05" cy="354.51" r="1.7" fill="#fff" stroke="#6db0da" stroke-width="0.75"/>
<circle cx="411.05" cy="354.51" r="1.7" fill="#fff" stroke="#6db0da" stroke-width="0.75"/>
<circle cx="406.05" cy="352.26" r="1.7" fill="#fff" stroke="#6db0da" stroke-width="0.75"/>
<circle cx="403.05" cy="351.73" r="1.7" fill="#fff" stroke="#6db0da" stroke-width="0.75"/>
<circle cx="408.80" cy="351.20" r="1.7" fill="#fff" stroke="#6db0da" stroke-width="0.75"/>
<circle cx="411.55" cy="350.27" r="1.7" fill="#fff" stroke="#6db0da" stroke-width="0.75"/>
<circle cx="406.05" cy="348.94" r="1.7" fill="#fff" stroke="#6db0da" stroke-width="0.75"/>
<circle cx="403.05" cy="348.28" r="1.7" fill="#fff" stroke="#6db0da" stroke-width="0.75"/>
<circle cx="408.80" cy="347.48" r="1.7" fill="#fff" stroke="#6db0da" stroke-width="0.75"/>
<circle cx="406.05" cy="345.23" r="1.7" fill="#fff" stroke="#6db0da" stroke-width="0.75"/>
<circle cx="403.05" cy="344.70" r="1.7" fill="#fff" stroke="#6db0da" stroke-width="0.75"/>
<circle cx="406.05" cy="328.78" r="1.7" fill="#fff" stroke="#6db0da" stroke-width="0.75"/>
<rect x="399.45" y="351.81" width="13.20" height="1.1" fill="#111"/>
<rect x="405.50" y="342.42" width="1.1" height="19.87" fill="#111"/>
<rect x="402.55" y="341.87" width="7.00" height="1.1" fill="#111"/>
<rect x="402.55" y="361.75" width="7.00" height="1.1" fill="#111"/>
<rect x="425.40" y="386.40" width="1.0" height="2.80" fill="#1e1e1e"/>
<circle cx="425.90" cy="369.13" r="1.75" fill="#0d563d"/>
<circle cx="425.90" cy="364.40" r="1.75" fill="#0d563d"/>
<circle cx="422.90" cy="364.40" r="1.75" fill="#0d563d"/>
<circle cx="428.90" cy="364.40" r="1.75" fill="#0d563d"/>
<circle cx="420.40" cy="364.40" r="1.75" fill="#0d563d"/>
<circle cx="431.40" cy="362.95" r="1.75" fill="#0d563d"/>
<circle cx="425.90" cy="361.49" r="1.75" fill="#0d563d"/>
<circle cx="423.15" cy="360.04" r="1.75" fill="#0d563d"/>
<circle cx="425.90" cy="356.04" r="1.75" fill="#0d563d"/>
<circle cx="423.90" cy="353.86" r="1.75" fill="#0d563d"/>
<circle cx="425.90" cy="347.68" r="1.75" fill="#0d563d"/>
<circle cx="422.90" cy="347.68" r="1.75" fill="#0d563d"/>
<circle cx="428.65" cy="346.22" r="1.75" fill="#0d563d"/>
<circle cx="425.90" cy="340.04" r="1.75" fill="#0d563d"/>
<circle cx="423.40" cy="338.22" r="1.75" fill="#0d563d"/>
<circle cx="425.90" cy="327.68" r="1.75" fill="#0d563d"/>
<circle cx="425.90" cy="321.50" r="1.75" fill="#0d563d"/>
<rect x="419.30" y="351.81" width="13.20" height="1.1" fill="#111"/>
<rect x="425.35" y="338.38" width="1.1" height="27.96" fill="#111"/>
<rect x="422.40" y="337.83" width="7.00" height="1.1" fill="#111"/>
<rect x="422.40" y="365.79" width="7.00" height="1.1" fill="#111"/>
<rect x="445.25" y="386.40" width="1.0" height="2.80" fill="#1e1e1e"/>
<rect x="444.05" y="363.63" width="3.4" height="3.4" fill="#fff8ea" stroke="#f0bb78" stroke-width="0.75"/>
<rect x="441.05" y="363.63" width="3.4" height="3.4" fill="#fff8ea" stroke="#f0bb78" stroke-width="0.75"/>
<rect x="444.05" y="358.43" width="3.4" height="3.4" fill="#fff8ea" stroke="#f0bb78" stroke-width="0.75"/>
<rect x="441.05" y="358.43" width="3.4" height="3.4" fill="#fff8ea" stroke="#f0bb78" stroke-width="0.75"/>
<rect x="446.80" y="357.01" width="3.4" height="3.4" fill="#fff8ea" stroke="#f0bb78" stroke-width="0.75"/>
<rect x="438.80" y="356.44" width="3.4" height="3.4" fill="#fff8ea" stroke="#f0bb78" stroke-width="0.75"/>
<rect x="444.05" y="354.45" width="3.4" height="3.4" fill="#fff8ea" stroke="#f0bb78" stroke-width="0.75"/>
<rect x="442.30" y="352.08" width="3.4" height="3.4" fill="#fff8ea" stroke="#f0bb78" stroke-width="0.75"/>
<rect x="445.30" y="351.32" width="3.4" height="3.4" fill="#fff8ea" stroke="#f0bb78" stroke-width="0.75"/>
<rect x="448.30" y="350.75" width="3.4" height="3.4" fill="#fff8ea" stroke="#f0bb78" stroke-width="0.75"/>
<rect x="439.55" y="350.66" width="3.4" height="3.4" fill="#fff8ea" stroke="#f0bb78" stroke-width="0.75"/>
<rect x="444.05" y="348.29" width="3.4" height="3.4" fill="#fff8ea" stroke="#f0bb78" stroke-width="0.75"/>
<rect x="441.30" y="346.96" width="3.4" height="3.4" fill="#fff8ea" stroke="#f0bb78" stroke-width="0.75"/>
<rect x="446.80" y="346.96" width="3.4" height="3.4" fill="#fff8ea" stroke="#f0bb78" stroke-width="0.75"/>
<rect x="438.80" y="346.96" width="3.4" height="3.4" fill="#fff8ea" stroke="#f0bb78" stroke-width="0.75"/>
<rect x="449.55" y="346.87" width="3.4" height="3.4" fill="#fff8ea" stroke="#f0bb78" stroke-width="0.75"/>
<rect x="444.05" y="346.30" width="3.4" height="3.4" fill="#fff8ea" stroke="#f0bb78" stroke-width="0.75"/>
<rect x="442.55" y="345.45" width="3.4" height="3.4" fill="#fff8ea" stroke="#f0bb78" stroke-width="0.75"/>
<rect x="440.05" y="345.16" width="3.4" height="3.4" fill="#fff8ea" stroke="#f0bb78" stroke-width="0.75"/>
<rect x="448.05" y="345.16" width="3.4" height="3.4" fill="#fff8ea" stroke="#f0bb78" stroke-width="0.75"/>
<rect x="445.55" y="343.84" width="3.4" height="3.4" fill="#fff8ea" stroke="#f0bb78" stroke-width="0.75"/>
<rect x="441.80" y="342.60" width="3.4" height="3.4" fill="#fff8ea" stroke="#f0bb78" stroke-width="0.75"/>
<rect x="447.55" y="341.64" width="3.4" height="3.4" fill="#fff8ea" stroke="#f0bb78" stroke-width="0.75"/>
<rect x="439.15" y="351.72" width="13.20" height="1.1" fill="#111"/>
<rect x="445.20" y="345.84" width="1.1" height="12.85" fill="#111"/>
<rect x="442.25" y="345.29" width="7.00" height="1.1" fill="#111"/>
<rect x="442.25" y="358.14" width="7.00" height="1.1" fill="#111"/>
<rect x="465.10" y="386.40" width="1.0" height="2.80" fill="#1e1e1e"/>
<circle cx="465.60" cy="369.84" r="1.7" fill="#fff" stroke="#6db0da" stroke-width="0.75"/>
<circle cx="462.60" cy="369.84" r="1.7" fill="#fff" stroke="#6db0da" stroke-width="0.75"/>
<circle cx="465.60" cy="364.76" r="1.7" fill="#fff" stroke="#6db0da" stroke-width="0.75"/>
<circle cx="462.60" cy="364.76" r="1.7" fill="#fff" stroke="#6db0da" stroke-width="0.75"/>
<circle cx="468.60" cy="363.98" r="1.7" fill="#fff" stroke="#6db0da" stroke-width="0.75"/>
<circle cx="465.60" cy="354.93" r="1.7" fill="#fff" stroke="#6db0da" stroke-width="0.75"/>
<circle cx="462.60" cy="354.82" r="1.7" fill="#fff" stroke="#6db0da" stroke-width="0.75"/>
<circle cx="468.35" cy="353.81" r="1.7" fill="#fff" stroke="#6db0da" stroke-width="0.75"/>
<circle cx="460.35" cy="353.59" r="1.7" fill="#fff" stroke="#6db0da" stroke-width="0.75"/>
<circle cx="470.85" cy="353.14" r="1.7" fill="#fff" stroke="#6db0da" stroke-width="0.75"/>
<circle cx="464.10" cy="352.47" r="1.7" fill="#fff" stroke="#6db0da" stroke-width="0.75"/>
<circle cx="466.60" cy="350.80" r="1.7" fill="#fff" stroke="#6db0da" stroke-width="0.75"/>
<circle cx="465.60" cy="348.00" r="1.7" fill="#fff" stroke="#6db0da" stroke-width="0.75"/>
<circle cx="462.60" cy="348.00" r="1.7" fill="#fff" stroke="#6db0da" stroke-width="0.75"/>
<circle cx="468.60" cy="347.33" r="1.7" fill="#fff" stroke="#6db0da" stroke-width="0.75"/>
<circle cx="460.35" cy="347.33" r="1.7" fill="#fff" stroke="#6db0da" stroke-width="0.75"/>
<circle cx="471.10" cy="345.88" r="1.7" fill="#fff" stroke="#6db0da" stroke-width="0.75"/>
<circle cx="464.10" cy="345.44" r="1.7" fill="#fff" stroke="#6db0da" stroke-width="0.75"/>
<circle cx="466.60" cy="345.32" r="1.7" fill="#fff" stroke="#6db0da" stroke-width="0.75"/>
<circle cx="461.60" cy="344.88" r="1.7" fill="#fff" stroke="#6db0da" stroke-width="0.75"/>
<circle cx="468.60" cy="344.88" r="1.7" fill="#fff" stroke="#6db0da" stroke-width="0.75"/>
<circle cx="470.60" cy="343.90" r="1.7" fill="#fff" stroke="#6db0da" stroke-width="0.75"/>
<circle cx="465.60" cy="341.97" r="1.7" fill="#fff" stroke="#6db0da" stroke-width="0.75"/>
<rect x="459.00" y="352.04" width="13.20" height="1.1" fill="#111"/>
<rect x="465.05" y="344.09" width="1.1" height="17.01" fill="#111"/>
<rect x="462.10" y="343.54" width="7.00" height="1.1" fill="#111"/>
<rect x="462.10" y="360.55" width="7.00" height="1.1" fill="#111"/>
<rect x="484.95" y="386.40" width="1.0" height="2.80" fill="#1e1e1e"/>
<circle cx="485.45" cy="376.61" r="1.75" fill="#0d563d"/>
<circle cx="482.45" cy="376.61" r="1.75" fill="#0d563d"/>
<circle cx="488.45" cy="376.08" r="1.75" fill="#0d563d"/>
<circle cx="485.45" cy="363.01" r="1.75" fill="#0d563d"/>
<circle cx="482.45" cy="362.45" r="1.75" fill="#0d563d"/>
<circle cx="488.45" cy="362.45" r="1.75" fill="#0d563d"/>
<circle cx="480.20" cy="362.45" r="1.75" fill="#0d563d"/>
<circle cx="485.45" cy="359.04" r="1.75" fill="#0d563d"/>
<circle cx="483.95" cy="356.48" r="1.75" fill="#0d563d"/>
<circle cx="486.70" cy="355.49" r="1.75" fill="#0d563d"/>
<circle cx="481.45" cy="354.78" r="1.75" fill="#0d563d"/>
<circle cx="485.45" cy="351.37" r="1.75" fill="#0d563d"/>
<circle cx="482.45" cy="350.80" r="1.75" fill="#0d563d"/>
<circle cx="485.45" cy="345.68" r="1.75" fill="#0d563d"/>
<circle cx="482.95" cy="343.98" r="1.75" fill="#0d563d"/>
<circle cx="487.45" cy="343.41" r="1.75" fill="#0d563d"/>
<circle cx="490.45" cy="343.34" r="1.75" fill="#0d563d"/>
<circle cx="485.45" cy="341.14" r="1.75" fill="#0d563d"/>
<circle cx="482.20" cy="341.14" r="1.75" fill="#0d563d"/>
<circle cx="488.45" cy="340.28" r="1.75" fill="#0d563d"/>
<circle cx="485.45" cy="335.74" r="1.75" fill="#0d563d"/>
<circle cx="485.45" cy="330.34" r="1.75" fill="#0d563d"/>
<circle cx="482.45" cy="330.34" r="1.75" fill="#0d563d"/>
<rect x="478.85" y="351.75" width="13.20" height="1.1" fill="#111"/>
<rect x="484.90" y="338.56" width="1.1" height="27.50" fill="#111"/>
<rect x="481.95" y="338.01" width="7.00" height="1.1" fill="#111"/>
<rect x="481.95" y="365.50" width="7.00" height="1.1" fill="#111"/>
<text x="405.3" y="399.8" font-size="7.7" text-anchor="middle" font-weight="normal" fill="#2e2e2e" textLength="27.2" lengthAdjust="spacingAndGlyphs" >Donor 1</text>
<text x="465.4" y="399.8" font-size="7.7" text-anchor="middle" font-weight="normal" fill="#2e2e2e" textLength="27.6" lengthAdjust="spacingAndGlyphs" >Donor 2</text>
<rect x="0" y="0" width="520" height="1" fill="#575757"/><rect x="0" y="0" width="1" height="410" fill="#6a6a6a"/><rect x="519" y="0" width="1" height="410" fill="#4c4c4c"/><rect x="0" y="409" width="520" height="1" fill="#4c4c4c"/>
</svg>
</body></html>
